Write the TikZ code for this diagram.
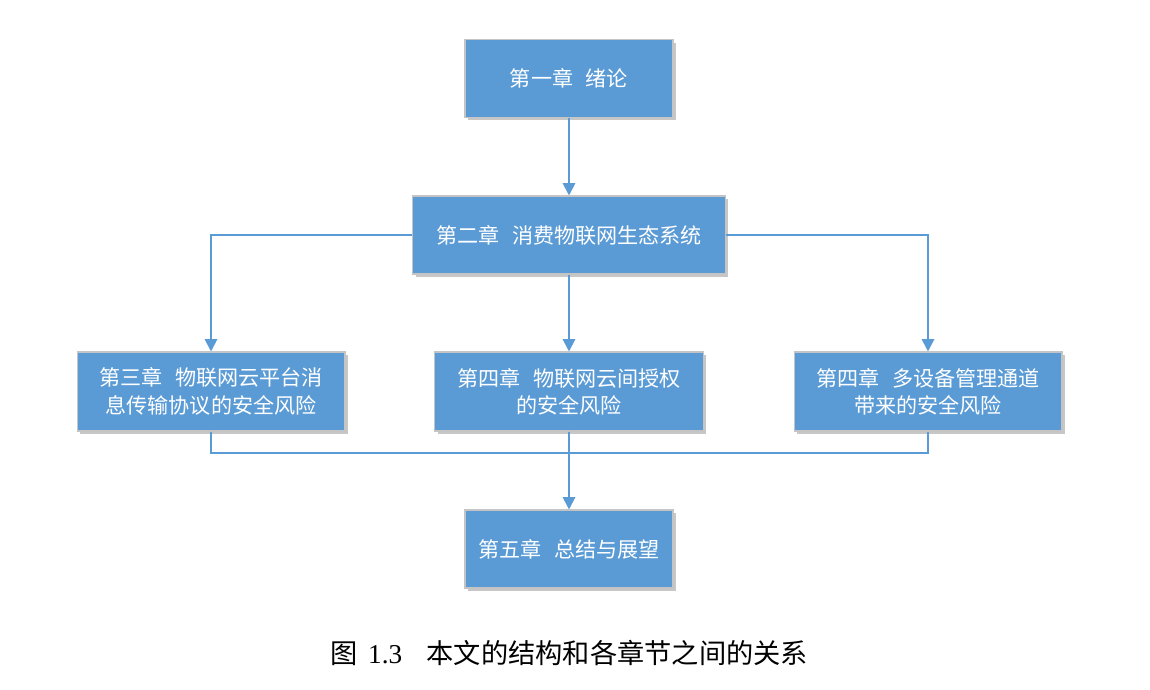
\documentclass[tikz,border=0pt]{standalone}
\usepackage{fontspec}
\setmainfont{Liberation Serif}
\newfontfamily\cjk{Noto Sans CJK SC}
\usetikzlibrary{arrows.meta, shadows}
\definecolor{boxblue}{HTML}{5B9BD5}
\definecolor{boxedge}{HTML}{C4C4C4}

\begin{document}
\begin{tikzpicture}[x=0.02cm, y=-0.02cm,
    chap/.style={draw=boxedge, line width=0.6pt, fill=boxblue, rectangle,
        text=white, font=\cjk\fontsize{12}{15.5}\selectfont, align=center,
        minimum height=1.56cm,
        drop shadow={shadow xshift=0.06cm, shadow yshift=-0.06cm, opacity=0.22, fill=black}},
    wire/.style={draw=boxblue, line width=1.1pt},
    link/.style={wire, -{Triangle[width=7pt, length=7pt]}}]
    \useasboundingbox (0,0) rectangle (1150,690);

    \node[chap, minimum width=4.16cm] (Intro) at (569,78.5) {第一章\hspace{0.6em}绪论};
    \node[chap, minimum width=6.26cm] (Eco) at (569,235) {第二章\hspace{0.6em}消费物联网生态系统};
    \node[chap, minimum width=5.36cm, minimum height=1.58cm] (Proto) at (211,391.5) {第三章\hspace{0.6em}物联网云平台消\\息传输协议的安全风险};
    \node[chap, minimum width=5.38cm, minimum height=1.58cm] (Auth) at (569,391.5) {第四章\hspace{0.6em}物联网云间授权\\的安全风险};
    \node[chap, minimum width=5.36cm, minimum height=1.58cm] (Multi) at (928,391.5) {第四章\hspace{0.6em}多设备管理通道\\带来的安全风险};
    \node[chap, minimum width=4.16cm] (Summary) at (569,549) {第五章\hspace{0.6em}总结与展望};

    \coordinate (Join) at (Auth.south |- 0,453);

    \draw[link] (Intro) -- (Eco);
    \draw[link] (Eco.west) -| (Proto.north);
    \draw[link] (Eco.east) -| (Multi.north);
    \draw[link] (Eco) -- (Auth);
    \draw[wire] (Proto.south) |- (Join) -| (Multi.south);
    \draw[link] (Auth) -- (Summary);

    \node[font=\fontsize{15.5}{18}\selectfont] (Caption) at (569,653)
        {{\cjk 图}\hspace{0.4em}1.3\hspace{0.9em}{\cjk 本文的结构和各章节之间的关系}};
\end{tikzpicture}
\end{document}
